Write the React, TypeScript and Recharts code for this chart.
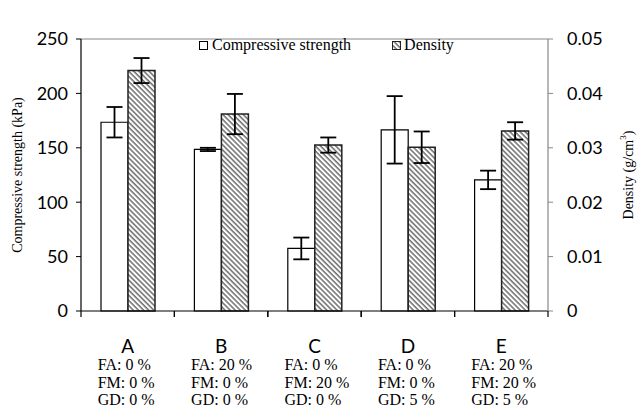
import { BarChart, Bar, XAxis, YAxis, ErrorBar, Legend, ReferenceLine } from 'recharts';

// Mixtures A-E with their composition
const categories = ['A', 'B', 'C', 'D', 'E'];
const faLabels = ['FA: 0 %', 'FA: 20 %', 'FA: 0 %', 'FA: 0 %', 'FA: 20 %'];
const fmLabels = ['FM: 0 %', 'FM: 0 %', 'FM: 20 %', 'FM: 0 %', 'FM: 20 %'];
const gdLabels = ['GD: 0 %', 'GD: 0 %', 'GD: 0 %', 'GD: 5 %', 'GD: 5 %'];

// Compressive strength (kPa) and std dev
const strength = [173.5, 148.5, 57.5, 166.5, 120.5];
const strengthErr = [14, 1.5, 10, 31, 8.5];

// Density (g/cm3) and std dev
const density = [0.0442, 0.0362, 0.0305, 0.0301, 0.0331];
const densityErr = [0.0023, 0.0037, 0.0014, 0.0029, 0.0016];

const leftTicks = [0, 50, 100, 150, 200, 250];
const rightTicks = [0, 0.01, 0.02, 0.03, 0.04, 0.05];

const data = categories.map((c, i) => ({
    name: c,
    strength: strength[i],
    strengthErr: strengthErr[i],
    density: density[i],
    densityErr: densityErr[i],
}));

const CHART_W = 639;
const CHART_H = 409;
const LEFT_AXIS_W = 81;
const RIGHT_AXIS_W = 91;
const BAND = (CHART_W - LEFT_AXIS_W - RIGHT_AXIS_W) / categories.length;

const serif = '"Liberation Serif", "Times New Roman", serif';
const sans = 'Lato, "Open Sans", sans-serif';

function CategoryTick(props: any) {
    const { x, y, payload } = props;
    const i = categories.indexOf(payload.value);
    const left = x - 30;
    const axisY = y - 8;
    return (
        <g>
            {/* tick marks on the category boundaries */}
            <line x1={x - BAND / 2} y1={axisY} x2={x - BAND / 2} y2={axisY + 6} stroke="#000" strokeWidth={1.2} />
            <line x1={x + BAND / 2} y1={axisY} x2={x + BAND / 2} y2={axisY + 6} stroke="#000" strokeWidth={1.2} />
            <text x={x} y={y + 34} textAnchor="middle" fontFamily={sans} fontSize={19} fill="#000">{payload.value}</text>
            <text x={left} y={y + 51} fontFamily={serif} fontSize={16} fill="#000">{faLabels[i]}</text>
            <text x={left} y={y + 68.5} fontFamily={serif} fontSize={16} fill="#000">{fmLabels[i]}</text>
            <text x={left} y={y + 86} fontFamily={serif} fontSize={16} fill="#000">{gdLabels[i]}</text>
        </g>
    );
}

function LeftTitle(props: any) {
    const { viewBox } = props;
    const cx = viewBox.x + 17;
    const cy = viewBox.y + viewBox.height / 2;
    return (
        <text x={cx} y={cy} transform={`rotate(-90 ${cx} ${cy})`} textAnchor="middle" dominantBaseline="central" fontFamily={serif} fontSize={14} fill="#000">
            Compressive strength (kPa)
        </text>
    );
}

function RightTitle(props: any) {
    const { viewBox } = props;
    const cx = viewBox.x + 80;
    const cy = viewBox.y + viewBox.height / 2;
    return (
        <text x={cx} y={cy} transform={`rotate(-90 ${cx} ${cy})`} textAnchor="middle" dominantBaseline="central" fontFamily={serif} fontSize={14} fill="#000">
            Density (g/cm<tspan dy={-5} fontSize={9}>3</tspan><tspan dy={5}>)</tspan>
        </text>
    );
}

function LegendBox() {
    return (
        <div style={{ display: 'flex', alignItems: 'center', fontFamily: serif, fontSize: 16, color: '#000' }}>
            <svg width={9} height={9} style={{ marginRight: 4 }}>
                <rect x={0.5} y={0.5} width={8} height={8} fill="#fff" stroke="#000" />
            </svg>
            <span>Compressive strength</span>
            <svg width={9} height={9} style={{ marginLeft: 41, marginRight: 3 }}>
                <rect x={0.5} y={0.5} width={8} height={8} fill="url(#hatch)" stroke="#222" />
            </svg>
            <span>Density</span>
        </div>
    );
}

export default function App() {
    return (
        <div style={{ position: 'absolute', left: 0, top: 0, background: '#fff' }}>
            <BarChart width={CHART_W} height={CHART_H} data={data} margin={{ top: 21, right: 0, bottom: 0, left: 0 }} barSize={27} barGap={0}>
                <defs>
                    <pattern id="hatch" width={3.6} height={3.6} patternUnits="userSpaceOnUse" patternTransform="rotate(-45)">
                        <rect width={3.6} height={3.6} fill="#fff" />
                        <line x1={1} y1={0} x2={1} y2={3.6} stroke="#555" strokeWidth={1.3} />
                    </pattern>
                </defs>
                <XAxis dataKey="name" height={98} axisLine={{ stroke: '#000', strokeWidth: 1.2 }} tickLine={false} tick={<CategoryTick />} interval={0} />
                <YAxis
                    yAxisId="left"
                    width={LEFT_AXIS_W}
                    domain={[0, 250]}
                    ticks={leftTicks}
                    tickSize={5}
                    tickMargin={8}
                    axisLine={{ stroke: '#000', strokeWidth: 1.2 }}
                    tickLine={{ stroke: '#000' }}
                    tick={{ fill: '#000', fontFamily: sans, fontSize: 18 }}
                    label={<LeftTitle />}
                />
                <YAxis
                    yAxisId="right"
                    orientation="right"
                    width={RIGHT_AXIS_W}
                    domain={[0, 0.05]}
                    ticks={rightTicks}
                    tickSize={5}
                    tickMargin={14}
                    axisLine={{ stroke: '#888', strokeWidth: 1.2 }}
                    tickLine={{ stroke: '#888' }}
                    tick={{ fill: '#000', fontFamily: sans, fontSize: 18 }}
                    label={<RightTitle />}
                />
                <ReferenceLine yAxisId="left" y={250} stroke="#888" strokeWidth={1.2} />
                <Legend verticalAlign="top" content={<LegendBox />} wrapperStyle={{ top: 36, left: 199, width: 'auto' }} />
                <Bar yAxisId="left" dataKey="strength" name="Compressive strength" fill="#fff" stroke="#000" strokeWidth={1.2} isAnimationActive={false}>
                    <ErrorBar dataKey="strengthErr" width={8} stroke="#000" strokeWidth={1.8} direction="y" />
                </Bar>
                <Bar yAxisId="right" dataKey="density" name="Density" fill="url(#hatch)" stroke="#222" strokeWidth={1.5} isAnimationActive={false}>
                    <ErrorBar dataKey="densityErr" width={8} stroke="#000" strokeWidth={1.8} direction="y" />
                </Bar>
            </BarChart>
        </div>
    );
}
